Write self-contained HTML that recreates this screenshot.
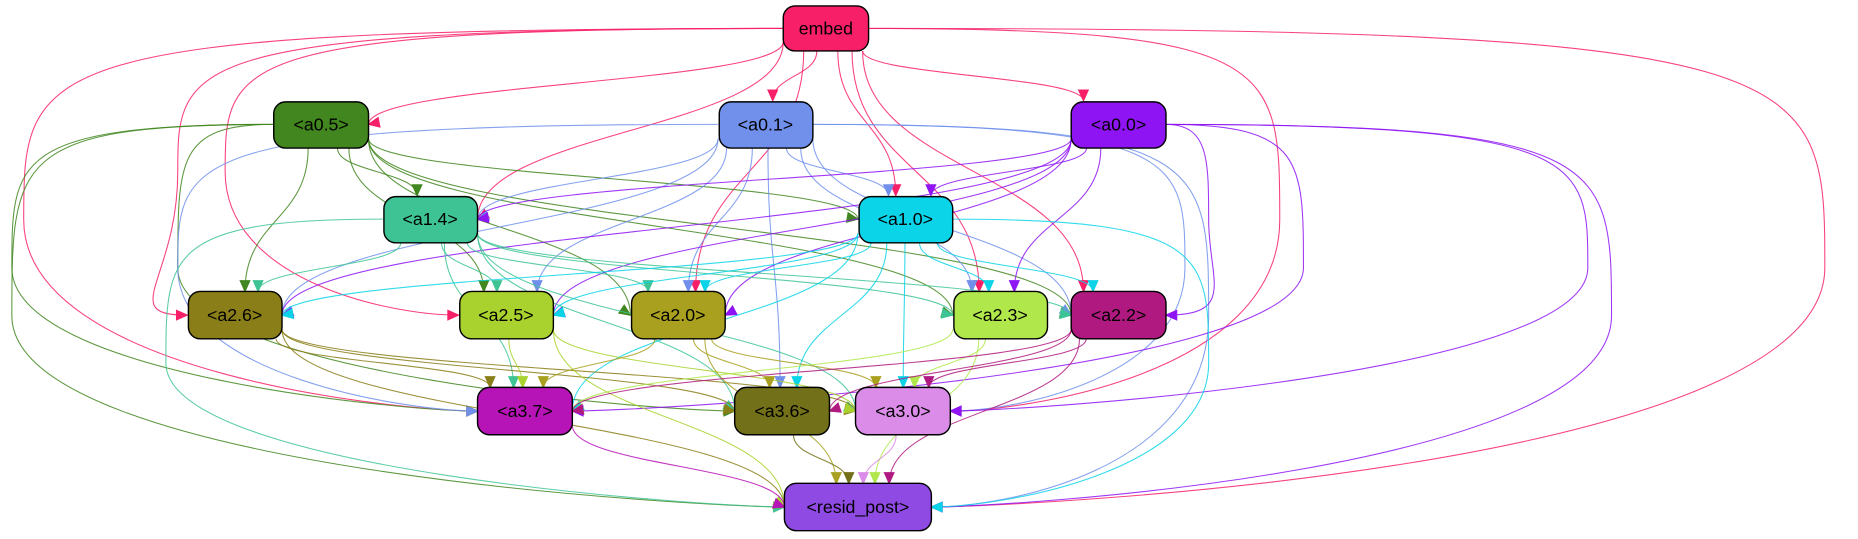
<!DOCTYPE html>
<html><head><meta charset="utf-8"><style>
html,body{margin:0;padding:0;background:#fff;}
svg{display:block;}
text{font-family:"Liberation Sans",Helvetica,sans-serif;font-size:15px;text-anchor:middle;dominant-baseline:central;fill:#000;}
</style></head><body>
<svg id="g" width="1858" height="539" viewBox="0 0 1568 455" preserveAspectRatio="none" xmlns="http://www.w3.org/2000/svg">
<g id="edges"></g>
<g id="nodes">
<rect x="661" y="5" width="72" height="38" rx="10" fill="#f72068" stroke="#000" stroke-width="1.2"/><text x="697" y="24">embed</text>
<rect x="231" y="86" width="80" height="39" rx="10" fill="#41861e" stroke="#000" stroke-width="1.2"/><text x="271" y="105">&lt;a0.5&gt;</text>
<rect x="607" y="86" width="79" height="39" rx="10" fill="#7090ec" stroke="#000" stroke-width="1.2"/><text x="646" y="105">&lt;a0.1&gt;</text>
<rect x="904" y="86" width="80" height="39" rx="10" fill="#8e14f3" stroke="#000" stroke-width="1.2"/><text x="944" y="105">&lt;a0.0&gt;</text>
<rect x="324" y="166" width="79" height="39" rx="10" fill="#3ec494" stroke="#000" stroke-width="1.2"/><text x="363" y="185">&lt;a1.4&gt;</text>
<rect x="725" y="166" width="79" height="39" rx="10" fill="#0bd3e8" stroke="#000" stroke-width="1.2"/><text x="764" y="185">&lt;a1.0&gt;</text>
<rect x="159" y="246" width="79" height="40" rx="10" fill="#8a7e18" stroke="#000" stroke-width="1.2"/><text x="198" y="266">&lt;a2.6&gt;</text>
<rect x="388" y="246" width="79" height="40" rx="10" fill="#a9d22e" stroke="#000" stroke-width="1.2"/><text x="427" y="266">&lt;a2.5&gt;</text>
<rect x="533" y="246" width="79" height="40" rx="10" fill="#a8a01e" stroke="#000" stroke-width="1.2"/><text x="572" y="266">&lt;a2.0&gt;</text>
<rect x="805" y="246" width="79" height="40" rx="10" fill="#b0e84c" stroke="#000" stroke-width="1.2"/><text x="844" y="266">&lt;a2.3&gt;</text>
<rect x="904" y="246" width="80" height="40" rx="10" fill="#b01a80" stroke="#000" stroke-width="1.2"/><text x="944" y="266">&lt;a2.2&gt;</text>
<rect x="403" y="327" width="80" height="40" rx="10" fill="#b614b6" stroke="#000" stroke-width="1.2"/><text x="443" y="347">&lt;a3.7&gt;</text>
<rect x="620" y="327" width="80" height="40" rx="10" fill="#727018" stroke="#000" stroke-width="1.2"/><text x="660" y="347">&lt;a3.6&gt;</text>
<rect x="722" y="327" width="80" height="40" rx="10" fill="#da8ce8" stroke="#000" stroke-width="1.2"/><text x="762" y="347">&lt;a3.0&gt;</text>
<rect x="662" y="408" width="124" height="40" rx="10" fill="#8f4ae3" stroke="#000" stroke-width="1.2"/><text x="724" y="428">&lt;resid_post&gt;</text>
</g>
</svg>
<script>
var N={embed:[697,24,36,19,'#f72068'],a05:[271,105,40,20,'#41861e'],a01:[646,105,40,20,'#7090ec'],a00:[944,105,40,20,'#8e14f3'],
a14:[363,185,40,20,'#3ec494'],a10:[764,185,40,20,'#0bd3e8'],a26:[198,266,40,20,'#8a7e18'],a25:[427,266,40,20,'#a9d22e'],
a20:[572,266,40,20,'#a8a01e'],a23:[844,266,40,20,'#b0e84c'],a22:[944,266,40,20,'#b01a80'],a37:[443,347,40,20,'#b614b6'],
a36:[660,347,40,20,'#727018'],a30:[762,347,40,20,'#da8ce8'],rp:[724,428,62,20,'#8f4ae3']};
var E=[
['embed','a05'],['embed','a01'],['embed','a00'],['embed','a14'],['embed','a10'],['embed','a26',150],['embed','a25',190],['embed','a20'],['embed','a23'],['embed','a22'],['embed','a37',20],['embed','a30',1080],['embed','rp',1540],
['a05','a14'],['a05','a10'],['a05','a26'],['a05','a25'],['a05','a20'],['a05','a23'],['a05','a22'],['a05','a37',10],['a05','a36',150],['a05','rp',10],
['a01','a14'],['a01','a10'],['a01','a26'],['a01','a25'],['a01','a20'],['a01','a23'],['a01','a22'],['a01','a37',150],['a01','a36'],['a01','a30',1000],['a01','rp',1020],
['a00','a14'],['a00','a10'],['a00','a26'],['a00','a25'],['a00','a20'],['a00','a23'],['a00','a22',1020],['a00','a37',1100],['a00','a30',1340],['a00','rp',1360],
['a14','a26'],['a14','a25'],['a14','a20'],['a14','a23'],['a14','a22'],['a14','a37'],['a14','a36'],['a14','a30'],['a14','rp',140],
['a10','a26'],['a10','a25'],['a10','a20'],['a10','a23'],['a10','a22'],['a10','a37'],['a10','a36'],['a10','a30'],['a10','rp',1020],
['a26','a37'],['a26','a36'],['a26','a30'],['a26','rp'],
['a25','a37'],['a25','a30'],['a25','rp'],
['a20','a37'],['a20','a36'],['a20','a30'],['a20','rp'],
['a23','a37'],['a23','a30'],['a23','rp'],
['a22','a37'],['a22','a36'],['a22','a30'],['a22','rp'],
['a37','rp'],['a36','rp'],['a30','rp']];
var g=document.getElementById('edges'),s='';
E.forEach(function(e){var a=N[e[0]],b=N[e[1]],c=a[4];
 var sx,sy,ex,ey,d,tx,ty;
 if(e[2]!==undefined){var vx=e[2];
  sx=a[0]+(vx<a[0]?-a[2]:a[2]);sy=a[1];
  var left=vx<b[0];ex=b[0]+(left?-b[2]:b[2]);ey=b[1];
  d='M'+sx+','+sy+' C'+vx+','+(sy)+' '+vx+','+(sy+30)+' '+vx+','+((sy+ey)/2)+' S'+(ex+(left?-60:60))+','+ey+' '+ex+','+ey;
  tx=left?1:-1;ty=0;
 } else if(b[1]-a[1]<10){return;}
 else{
  var dx=b[0]-a[0];
  sx=a[0]+Math.max(-a[2]+5,Math.min(a[2]-5,dx*0.15));sy=a[1]+a[3];
  ex=b[0]-Math.max(-b[2]+8,Math.min(b[2]-8,dx*0.12));ey=b[1]-b[3];
  if(Math.abs(dx)>250){ex=b[0]+(dx>0?-b[2]:b[2]);ey=b[1];sy=a[1]+a[3]*0.6;sx=a[0]+(dx>0?a[2]:-a[2]);}
  var my=(sy+ey)/2;
  d='M'+sx+','+sy+' C'+sx+','+my+' '+ex+','+(my)+' '+ex+','+ey;
  var ddx=ex-ex,ddy=ey-my; if(Math.abs(dx)>250){ddx=ex-sx;ddy=ey-sy;}
  var L=Math.hypot(ddx,ddy)||1;tx=ddx/L;ty=ddy/L;
 }
 var px=-ty,py=tx,bx=ex-tx*9,by=ey-ty*9;
 s+='<path d="'+d+'" fill="none" stroke="'+c+'" stroke-width="0.9" opacity="0.85"/>';
 s+='<polygon points="'+ex+','+ey+' '+(bx+px*4)+','+(by+py*4)+' '+(bx-px*4)+','+(by-py*4)+'" fill="'+c+'" stroke="'+c+'"/>';
});
g.innerHTML=s;
</script>
</body></html>
